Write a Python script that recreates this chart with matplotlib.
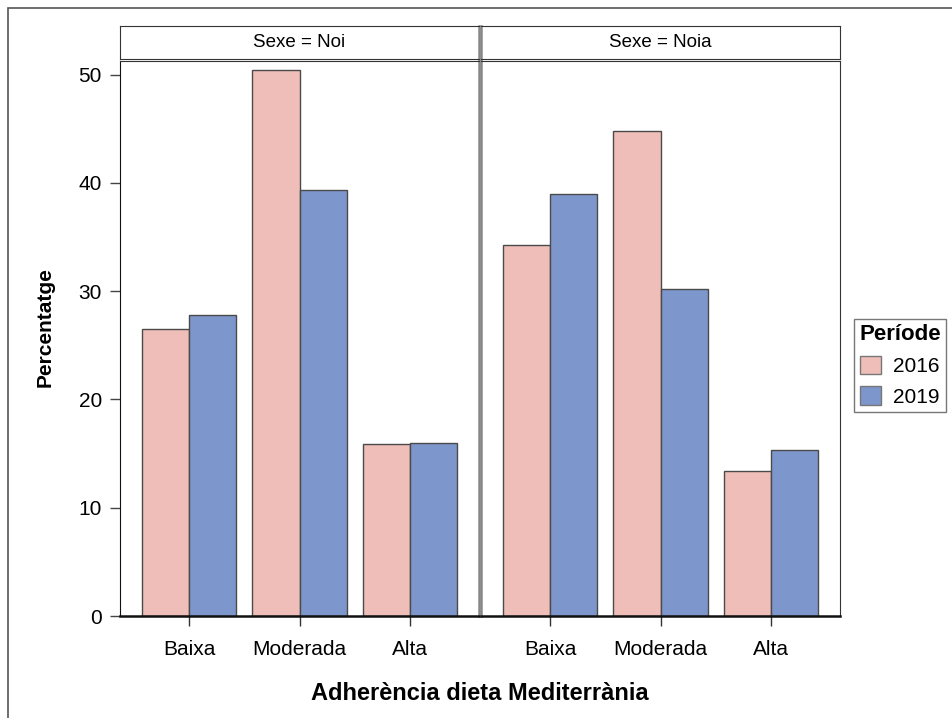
import matplotlib.pyplot as plt
from matplotlib.patches import Patch, Rectangle
import numpy as np

plt.rcParams['font.family'] = ['Liberation Sans', 'DejaVu Sans']

categories = ["Baixa", "Moderada", "Alta"]
panels = ["Sexe = Noi", "Sexe = Noia"]
periods = ["2016", "2019"]
# percentatges per panell: [2016, 2019]
noi = [[26.5, 50.4, 15.9], [27.8, 39.3, 16.0]]
noia = [[34.3, 44.8, 13.4], [39.0, 30.2, 15.3]]
values = [noi, noia]

colors = ["#EFBEB8", "#7D96CC"]
edge = "#4a4a4a"

W, H = 952, 718
fig = plt.figure(figsize=(W / 100, H / 100), dpi=100)


def rect(x0, y0, x1, y1):
    # pixel box -> figure fraction
    return [x0 / W, (H - y1) / H, (x1 - x0) / W, (y1 - y0) / H]


# marc exterior
fig.patches.append(Rectangle((8 / W, -0.1), 1.2, (H - 8) / H + 0.1,
                             transform=fig.transFigure, fill=False,
                             edgecolor="#555555", linewidth=1.2))

xpos = [(120, 479), (481, 840)]
w = 0.427
x = np.arange(len(categories))

for k, (x0, x1) in enumerate(xpos):
    ax = fig.add_axes(rect(x0, 61, x1, 616))
    for j in range(2):
        ax.bar(x + (j - 0.5) * w, values[k][j], width=w, color=colors[j],
               edgecolor=edge, linewidth=1.0)
    ax.set_xlim(-0.63, 2.63)
    ax.set_ylim(0, 51.25)
    ax.set_xticks(x)
    ax.set_xticklabels(categories, fontsize=15)
    ax.tick_params(axis="x", length=7, width=1, color="#333333", pad=10)
    ax.set_yticks([0, 10, 20, 30, 40, 50])
    if k == 0:
        ax.tick_params(axis="y", length=7, width=1, color="#444444",
                       labelsize=15, pad=6)
        ax.spines["left"].set_color("#111111")
        ax.spines["right"].set_color("#888888")
        ax.spines["right"].set_linewidth(1.8)
    else:
        ax.tick_params(axis="y", left=False, labelleft=False)
        ax.spines["left"].set_color("#888888")
        ax.spines["left"].set_linewidth(1.8)
        ax.spines["right"].set_color("#333333")
    ax.spines["bottom"].set_linewidth(1.8)
    ax.spines["bottom"].set_color("#111111")
    ax.spines["top"].set_color("#333333")

    sx = fig.add_axes(rect(x0, 26, x1, 59))
    sx.set_xticks([])
    sx.set_yticks([])
    for s in sx.spines.values():
        s.set_color("#333333")
    if k == 0:
        sx.spines["right"].set_color("#888888")
        sx.spines["right"].set_linewidth(1.8)
    else:
        sx.spines["left"].set_color("#888888")
        sx.spines["left"].set_linewidth(1.8)
    sx.text(0.5, 0.5, panels[k], ha="center", va="center", fontsize=13.5,
            transform=sx.transAxes)

fig.text(45 / W, (H - 327) / H, "Percentatge", rotation=90, ha="center",
         va="center", fontsize=15, fontweight="bold")
fig.text(480 / W, (H - 694) / H, "Adherència dieta Mediterrània",
         ha="center", va="center", fontsize=17, fontweight="bold")

handles = [Patch(facecolor=c, edgecolor="#777777", label=p)
           for c, p in zip(colors, periods)]
leg = fig.legend(handles=handles, title="Període", loc="upper left",
                 bbox_to_anchor=(854 / W, (H - 319) / H), fontsize=15,
                 title_fontproperties={"weight": "bold", "size": 16},
                 frameon=True, fancybox=False, edgecolor="#555555",
                 borderpad=0.25, handlelength=1.0, handleheight=1.0,
                 handletextpad=0.6, labelspacing=0.5, borderaxespad=0)
leg.get_frame().set_linewidth(1.0)

fig.savefig("out.png", dpi=100)
